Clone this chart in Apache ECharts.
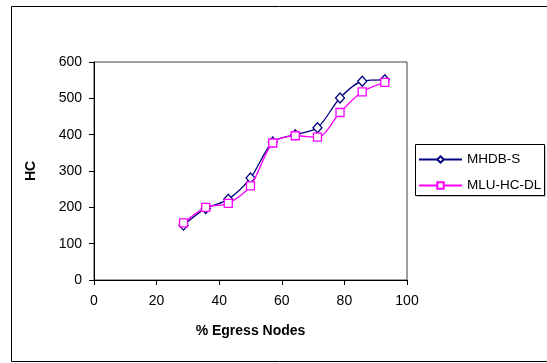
<!DOCTYPE html>
<html>
<head>
<meta charset="utf-8">
<script src="https://cdn.jsdelivr.net/npm/echarts@6/dist/echarts.min.js"></script>
<style>
  html, body { margin: 0; padding: 0; background: #fff; }
  #chart { width: 547px; height: 363px; }
</style>
</head>
<body>
<div id="chart"></div>
<script>
// % of egress nodes on the x axis
const egressPct = [28.6, 35.7, 42.9, 50.0, 57.1, 64.3, 71.4, 78.6, 85.7, 92.9];
// HC values per method
const mhdbS    = [151, 197, 222, 281, 380, 400, 419, 501, 547, 551];
const mluHcDl  = [157, 200, 211, 259, 377, 397, 393, 461, 518, 544];
const xTicks = [0, 20, 40, 60, 80, 100];
const yTicks = [0, 100, 200, 300, 400, 500, 600];

const font = 'Liberation Sans, Arial, sans-serif';
const chart = echarts.init(document.getElementById('chart'), null, { renderer: 'canvas' });

const pairs = (xs, ys) => xs.map((x, i) => [x, ys[i]]);

chart.setOption({
  animation: false,
  backgroundColor: '#fff',
  textStyle: { fontFamily: font },
  graphic: [
    // outer chart frame
    {
      type: 'rect',
      shape: { x: 11.5, y: 6.5, width: 537, height: 355 },
      style: { fill: 'none', stroke: '#000', lineWidth: 1 },
      silent: true
    },
    // legend box with a soft drop shadow
    {
      type: 'rect',
      shape: { x: 417, y: 146, width: 129, height: 51 },
      style: { fill: '#c8c8c8' },
      silent: true,
      z: -2
    },
    {
      type: 'rect',
      shape: { x: 415.5, y: 144.5, width: 129, height: 51 },
      style: { fill: '#fff', stroke: '#000', lineWidth: 1 },
      silent: true,
      z: -1
    }
  ],
  grid: {
    left: 94, right: 547 - 407, top: 62, bottom: 363 - 280,
    show: true, borderColor: '#404040', borderWidth: 1, backgroundColor: '#fff'
  },
  legend: {
    orient: 'vertical',
    left: 416, top: 145,
    padding: [7.5, 4, 4, 2],
    itemGap: 12,
    itemWidth: 43, itemHeight: 8,
    textStyle: { fontFamily: font, fontSize: 13.5, color: '#000' },
    data: ['MHDB-S', 'MLU-HC-DL']
  },
  xAxis: {
    type: 'value', min: 0, max: 100, interval: 20,
    name: '% Egress Nodes', nameLocation: 'middle', nameGap: 44,
    nameTextStyle: { fontFamily: font, fontSize: 14, fontWeight: 'bold', color: '#000' },
    axisLine: { show: true, lineStyle: { color: '#000', width: 1 } },
    axisTick: { show: true, length: 5, lineStyle: { color: '#000' } },
    axisLabel: { fontFamily: font, fontSize: 14, color: '#000', margin: 14,
      formatter: v => xTicks.includes(v) ? String(v) : '' },
    splitLine: { show: false }
  },
  yAxis: {
    type: 'value', min: 0, max: 600, interval: 100,
    name: 'HC', nameLocation: 'middle', nameGap: 56, nameRotate: 90,
    nameTextStyle: { fontFamily: font, fontSize: 14, fontWeight: 'bold', color: '#000' },
    axisLine: { show: true, lineStyle: { color: '#000', width: 1 } },
    axisTick: { show: true, length: 5, lineStyle: { color: '#000' } },
    axisLabel: { fontFamily: font, fontSize: 14, color: '#000', margin: 12,
      formatter: v => yTicks.includes(v) ? String(v) : '' },
    splitLine: { show: false }
  },
  series: [
    {
      name: 'MHDB-S', type: 'line',
      data: pairs(egressPct, mhdbS),
      smooth: 0.3,
      symbol: 'diamond', symbolSize: [9, 10],
      showAllSymbol: true,
      lineStyle: { color: '#000080', width: 1.3 },
      itemStyle: { color: '#fff', borderColor: '#000080', borderWidth: 1.3 },
      z: 2
    },
    {
      name: 'MLU-HC-DL', type: 'line',
      data: pairs(egressPct, mluHcDl),
      smooth: 0.3,
      symbol: 'rect', symbolSize: 8,
      showAllSymbol: true,
      lineStyle: { color: '#ff00ff', width: 1.3 },
      itemStyle: { color: '#fff', borderColor: '#ff00ff', borderWidth: 1.3 },
      z: 3
    }
  ]
});
</script>
</body>
</html>
